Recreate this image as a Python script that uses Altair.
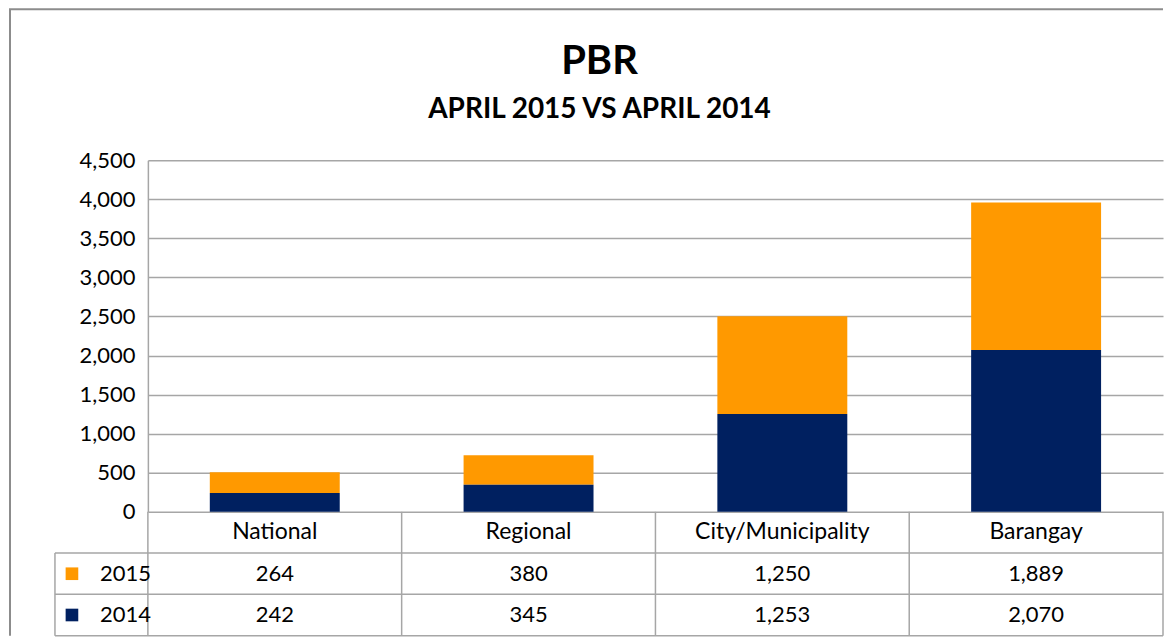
import altair as alt
import pandas as pd

# ---- data ----
categories = ["National", "Regional", "City/Municipality", "Barangay"]
values_2015 = [264, 380, 1250, 1889]
values_2014 = [242, 345, 1253, 2070]
years = ["2015", "2014"]
y_ticks = [0, 500, 1000, 1500, 2000, 2500, 3000, 3500, 4000, 4500]
title_text = "PBR"
subtitle_text = "APRIL 2015 VS APRIL 2014"

rows = []
for c, a, b in zip(categories, values_2015, values_2014):
    rows.append({"category": c, "year": "2015", "value": a, "stack": 1})
    rows.append({"category": c, "year": "2014", "value": b, "stack": 0})
df = pd.DataFrame(rows)
cat_df = pd.DataFrame({"category": categories})
one = pd.DataFrame({"k": [0]})

# ---- styling ----
FONT = "Lato"
ORANGE = "#FF9900"
NAVY = "#002060"
GRID = "#A6A6A6"
BORDER = "#8C8C8C"
W = 1016
H = 352
ROW_H = 41.3
FS = 22
FS_HEAD = 23

xscale = alt.Scale(domain=categories, paddingInner=0, paddingOuter=0)
color_scale = alt.Scale(domain=years, range=[ORANGE, NAVY])

bars = alt.Chart(df).mark_bar(width=alt.RelativeBandSize(0.512)).encode(
    x=alt.X("category:N", sort=categories, scale=xscale, axis=None),
    y=alt.Y(
        "value:Q",
        stack="zero",
        scale=alt.Scale(domain=[0, 4500], nice=False),
        axis=alt.Axis(
            values=y_ticks,
            format=",.0f",
            title=None,
            grid=True,
            gridColor=GRID,
            gridWidth=1.5,
            domain=True,
            domainColor=GRID,
            domainWidth=1.5,
            ticks=False,
            labelPadding=13,
            labelFont=FONT,
            labelFontSize=FS,
            labelColor="#000000",
        ),
    ),
    color=alt.Color("year:N", scale=color_scale, legend=None),
    order=alt.Order("stack:Q"),
)

# ---- data table under the chart ----
header = alt.Chart(cat_df).mark_text(font=FONT, fontSize=FS_HEAD, color="#000000", baseline="middle").encode(
    x=alt.X("category:N", sort=categories, scale=xscale),
    text="category:N",
    y=alt.value(H + ROW_H / 2),
)

def value_row(year, idx):
    return alt.Chart(df).transform_filter(alt.datum.year == year).mark_text(
        font=FONT, fontSize=FS, color="#000000", baseline="middle"
    ).encode(
        x=alt.X("category:N", sort=categories, scale=xscale),
        text=alt.Text("value:Q", format=",.0f"),
        y=alt.value(H + ROW_H * (idx + 1.5)),
    )

def key_row(year, idx):
    base = alt.Chart(df).transform_filter(alt.datum.year == year).transform_aggregate(
        n="count()", groupby=["year"]
    )
    sq = base.mark_square(size=160, opacity=1, filled=True).encode(
        x=alt.value(-76),
        y=alt.value(H + ROW_H * (idx + 1.5)),
        color=alt.Color("year:N", scale=color_scale, legend=None),
    )
    tx = base.mark_text(font=FONT, fontSize=FS, color="#000000", align="left", baseline="middle").encode(
        x=alt.value(-48),
        y=alt.value(H + ROW_H * (idx + 1.5)),
        text="year:N",
    )
    return sq + tx

col_lines = alt.Chart(cat_df).mark_rule(color=GRID, strokeWidth=1.5).encode(
    x=alt.X("category:N", sort=categories, scale=xscale, bandPosition=0),
    y=alt.value(H),
    y2=alt.value(H + 3 * ROW_H),
)
right_line = alt.Chart(one).mark_rule(color=GRID, strokeWidth=1.5).encode(
    x=alt.value(W), y=alt.value(H), y2=alt.value(H + 3 * ROW_H)
)
h_lines = [
    alt.Chart(one).mark_rule(color=GRID, strokeWidth=1.5).encode(
        x=alt.value(-93), x2=alt.value(W), y=alt.value(H + ROW_H * k)
    )
    for k in (1, 2, 3)
]
left_line = alt.Chart(one).mark_rule(color=GRID, strokeWidth=1.5).encode(
    x=alt.value(-93), y=alt.value(H + ROW_H), y2=alt.value(H + 3 * ROW_H)
)

# ---- outer chart border ----
outer_left = alt.Chart(one).mark_rule(color=BORDER, strokeWidth=2).encode(
    x=alt.value(-138), y=alt.value(-151), y2=alt.value(H + 3 * ROW_H)
)
outer_top = alt.Chart(one).mark_rule(color=BORDER, strokeWidth=2).encode(
    x=alt.value(-139), x2=alt.value(W), y=alt.value(-151)
)

# ---- titles ----
t1 = alt.Chart(one).mark_text(font=FONT, fontSize=40, fontWeight="bold", color="#000000",
                              align="center", baseline="alphabetic").encode(
    x=alt.value(452), y=alt.value(-86), text=alt.value(title_text)
)
t2 = alt.Chart(one).mark_text(font=FONT, fontSize=28, fontWeight="bold", color="#000000",
                              align="center", baseline="alphabetic").encode(
    x=alt.value(452), y=alt.value(-42), text=alt.value(subtitle_text)
)

chart = alt.layer(
    outer_left, outer_top, t1, t2,
    bars,
    col_lines, right_line, *h_lines, left_line,
    header, value_row("2015", 0), value_row("2014", 1),
    key_row("2015", 0), key_row("2014", 1),
).properties(
    width=W, height=H, padding=0, background="#FFFFFF"
).configure_view(stroke=None)

chart.save("out.html", embed_options={"renderer": "svg", "actions": False})
